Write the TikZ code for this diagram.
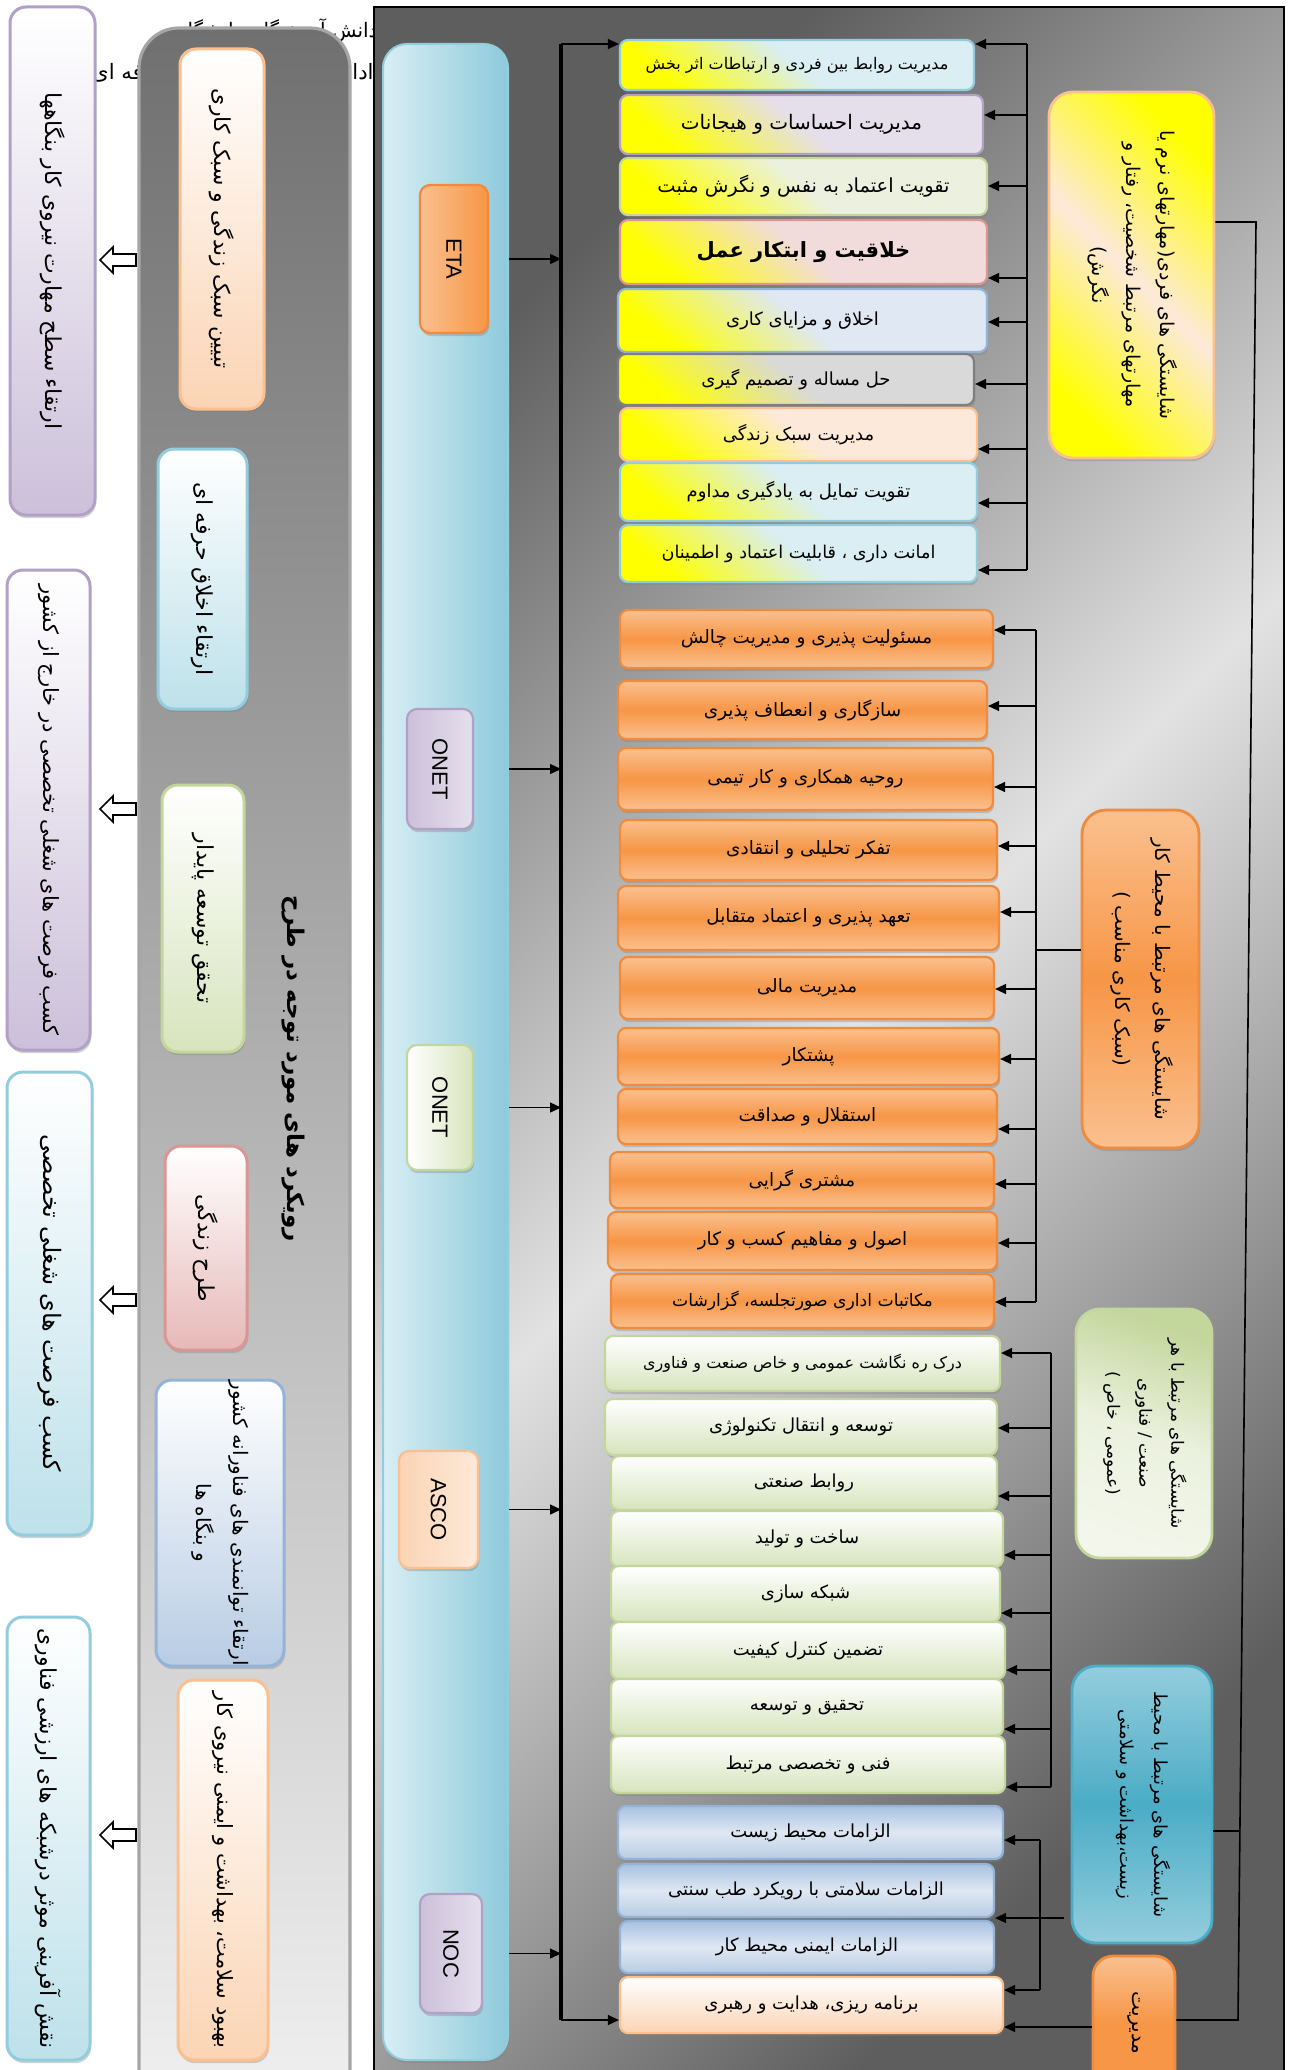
\documentclass[tikz,border=0pt]{standalone}
\usepackage{fontspec}
\setmainfont{DejaVu Sans}
\newfontfamily\arabicfont[Script=Arabic]{DejaVu Sans}
\newfontfamily\latinfont{Liberation Sans}
\usepackage{graphicx}
\TeXXeTstate=1
\usetikzlibrary{shadows,shapes.arrows,arrows.meta}
\newcommand\fa[1]{{\arabicfont\beginR #1\endR}}
\newcommand\fsz[2]{\fontsize{#1}{#2}\selectfont}
\newcommand\vt[1]{\rotatebox{-90}{\begin{tabular}{@{}c@{}}#1\end{tabular}}}
\newcommand\bx[7]{\node[#1,minimum width={(#5-#3)*0.5pt},minimum height={(#6-#4)*0.5pt}] (#2) at ({(#3+#5)/2},{(#4+#6)/2}) {#7};}
% colours
\definecolor{CyB}{HTML}{93CDDD}\definecolor{CyL}{HTML}{DAEEF3}
\definecolor{PuB}{HTML}{B2A1C7}\definecolor{PuL}{HTML}{E5DFEC}\definecolor{PuM}{HTML}{CCC0DA}
\definecolor{GrB}{HTML}{C3D69B}\definecolor{GrL}{HTML}{EBF1DE}\definecolor{GrM}{HTML}{D7E4BD}
\definecolor{RdB}{HTML}{D99694}\definecolor{RdL}{HTML}{F2DCDB}\definecolor{RdM}{HTML}{E6B9B8}
\definecolor{BlB}{HTML}{95B3D7}\definecolor{BlL}{HTML}{DFE8F3}\definecolor{BlM}{HTML}{B8CCE4}\definecolor{BlT}{HTML}{A9C1E0}
\definecolor{GyB}{HTML}{7F7F7F}\definecolor{GyL}{HTML}{D9D9D9}
\definecolor{PcB}{HTML}{FAC090}\definecolor{PcL}{HTML}{FDE9D9}\definecolor{PcM}{HTML}{FBD4B4}
\definecolor{Or}{HTML}{F79646}\definecolor{OrL}{HTML}{FAC08F}\definecolor{OrB}{HTML}{F08A3C}
\definecolor{TeM}{HTML}{4BACC6}\definecolor{TeL}{HTML}{93CDDD}
\definecolor{FrD}{HTML}{5E5E5E}\definecolor{FrL}{HTML}{E2E2E2}
\definecolor{GbT}{HTML}{707070}\definecolor{GbB}{HTML}{F0F0F0}\definecolor{GbE}{HTML}{A6A6A6}
\definecolor{PnL}{HTML}{D8EEF4}\definecolor{PnR}{HTML}{8ECADB}
\begin{document}
\begin{tikzpicture}[x=0.5pt,y=-0.5pt,
  boxbase/.style={draw, rounded corners=4pt, line width=1.1pt, inner sep=0pt, align=center,
     drop shadow={shadow xshift=0.6pt, shadow yshift=-1.6pt, opacity=0.35}},
  yit/.style 2 args={boxbase, draw=#1, shading=axis, bottom color=yellow, top color=#2, middle color=#2, shading angle=-40, font=\fsz{9}{11}},
  oit/.style={boxbase, draw=OrB, top color=OrL, bottom color=OrL, middle color=Or, font=\fsz{9.2}{11}},
  git/.style={boxbase, draw=GrB, top color=white, bottom color=GrM, font=\fsz{9}{11}},
  bit/.style={boxbase, draw=BlB, top color=BlT, bottom color=BlM, middle color=BlL, font=\fsz{9}{11}},
  pit/.style={boxbase, draw=PcB, top color=white, bottom color=PcM, font=\fsz{9}{11}},
  lab/.style n args={4}{boxbase, rounded corners=12pt, line width=1.4pt, draw=#1, shading=axis, top color=#2, bottom color=#4, middle color=#3},
  lbox/.style 2 args={boxbase, rounded corners=8pt, line width=1.5pt, draw=#1, top color=white, bottom color=#2, font=\fsz{11}{14}},
  pnode/.style n args={3}{boxbase, rounded corners=5pt, draw=#1, left color=#2, right color=#3, font=\latinfont\fsz{11}{13}},
  harrow/.style={single arrow, draw, fill=white, line width=0.8pt, shape border rotate=180, minimum height=18pt, single arrow head extend=3.5pt, inner sep=2.6pt},
  arr/.style={-{Triangle[length=5.5pt,width=5pt]}, line width=0.7pt},
  ln/.style={line width=0.8pt},
  bus/.style={line width=1.6pt}
]
\path[use as bounding box, fill=white] (0,0) rectangle (1291,2070);
% partly hidden text lines
\node[anchor=east, font=\fsz{10}{12}, inner sep=0pt] (t1) at (378,31) {\fa{دانش آموختگان دانشگاهی}};
\node[anchor=east, font=\fsz{10.6}{12}, inner sep=0pt] (t2) at (374,72) {\fa{ادامه تحصیل و آموزش حرفه ای}};
% left outcome boxes
\bx{lbox={PuB}{PuM}}{P1}{10}{7}{95}{515}{\rotatebox{-90}{\fa{ارتقاء سطح مهارت نیروی کار بنگاهها}}}
\bx{lbox={PuB}{PuM}}{P2}{7}{570}{90}{1050}{\rotatebox{-90}{\fsz{10.5}{13}\fa{کسب فرصت های شغلی تخصصی در خارج از کشور}}}
\bx{lbox={CyB}{CyL!60!CyB}}{P3}{7}{1072}{92}{1535}{\rotatebox{-90}{\fsz{12}{14}\fa{کسب فرصت های شغلی تخصصی}}}
\bx{lbox={CyB}{CyL!60!CyB}}{P4}{7}{1617}{90}{2060}{\rotatebox{-90}{\fa{نقش آفرینی موثر درشبکه های ارزشی فناوری}}}
\node[harrow] (ha1) at (121,260) {};
\node[harrow] (ha2) at (121,809) {};
\node[harrow] (ha3) at (121,1300) {};
\node[harrow] (ha4) at (121,1835) {};
% grey approach box
\bx{draw=GbE, line width=1.6pt, rounded corners=20pt, top color=GbT, bottom color=GbB, inner sep=0pt}{gbox}{139}{28}{350}{2110}{}
\bx{lbox={PcB}{PcM}}{G1}{180}{49}{264}{409}{\rotatebox{-90}{\fa{تبیین سبک زندگی و سبک کاری}}}
\bx{lbox={CyB}{CyL!60!CyB}}{G2}{158}{449}{247}{709}{\rotatebox{-90}{\fa{ارتقاء اخلاق حرفه ای}}}
\bx{lbox={GrB}{GrM}}{G3}{162}{785}{244}{1052}{\rotatebox{-90}{\fa{تحقق توسعه پایدار}}}
\node[font=\fsz{11.5}{14}\bfseries] (title) at (293,1069) {\rotatebox{-90}{\fa{رویکرد های مورد توجه در طرح}}};
\bx{lbox={RdB}{RdM}}{G4}{165}{1146}{247}{1350}{\rotatebox{-90}{\fa{طرح زندگی}}}
\bx{lbox={BlB}{BlM}}{G5}{156}{1380}{284}{1666}{\fsz{10}{12}\vt{\fa{ارتقاء توانمندی های فناورانه کشور}\\[6pt] \fa{و بنگاه ها}}}
\bx{lbox={PcB}{PcM}}{G6}{178}{1680}{268}{2060}{\rotatebox{-90}{\fsz{10.5}{12}\fa{بهبود سلامت، بهداشت و ایمنی نیروی کار}}}
% main frame
\bx{draw=black, line width=1.2pt, shading=axis, top color=FrD, bottom color=FrD, middle color=FrL, shading angle=45, inner sep=0pt}{frame}{374}{7}{1284}{2090}{}
% standards panel
\bx{boxbase, rounded corners=12pt, line width=1pt, draw=CyB, left color=PnL, right color=PnR}{panel}{383}{44}{508}{2060}{}
\bx{pnode={OrB}{OrL}{Or}}{eta}{420}{185}{488}{333}{\rotatebox{-90}{ETA}}
\bx{pnode={PuB}{PuM}{PuL}}{onA}{407}{709}{473}{829}{\rotatebox{-90}{ONET}}
\bx{pnode={GrB}{white}{GrM}}{onB}{407}{1045}{473}{1170}{\rotatebox{-90}{ONET}}
\bx{pnode={PcB}{PcM}{PcL}}{asco}{399}{1451}{478}{1568}{\rotatebox{-90}{ASCO}}
\bx{pnode={PuB}{PuM}{PuL}}{noc}{420}{1894}{482}{2013}{\rotatebox{-90}{NOC}}
% personal competencies (yellow)
\bx{yit={CyB}{CyL}}{y1}{620}{40}{974}{90}{\fsz{8}{10}\fa{مدیریت روابط بین فردی و ارتباطات اثر بخش}}
\bx{yit={PuB}{PuL}}{y2}{620}{95}{983}{154}{\fsz{10}{12}\fa{مدیریت احساسات و هیجانات}}
\bx{yit={GrB}{GrL}}{y3}{620}{158}{987}{215}{\fsz{9.7}{12}\fa{تقویت اعتماد به نفس و نگرش مثبت}}
\bx{yit={RdB}{RdL}}{y4}{620}{220}{987}{284}{\fsz{10.5}{13}\bfseries\fa{خلاقیت و ابتکار عمل}}
\bx{yit={BlB}{BlL}}{y5}{618}{289}{987}{352}{\fa{اخلاق و مزایای کاری}}
\bx{yit={GyB}{GyL}}{y6}{618}{354}{974}{405}{\fa{حل مساله و تصمیم گیری}}
\bx{yit={PcB}{PcL}}{y7}{620}{408}{977}{461}{\fa{مدیریت سبک زندگی}}
\bx{yit={CyB}{CyL}}{y8}{620}{463}{977}{521}{\fa{تقویت تمایل به یادگیری مداوم}}
\bx{yit={CyB}{CyL}}{y9}{620}{525}{977}{582}{\fsz{8.8}{11}\fa{امانت داری ، قابلیت اعتماد و اطمینان}}
% work environment (orange)
\bx{oit}{o1}{620}{610}{993}{668}{\fa{مسئولیت پذیری و مدیریت چالش}}
\bx{oit}{o2}{618}{681}{987}{739}{\fa{سازگاری و انعطاف پذیری}}
\bx{oit}{o3}{618}{748}{993}{810}{\fa{روحیه همکاری و کار تیمی}}
\bx{oit}{o4}{620}{820}{997}{880}{\fa{تفکر تحلیلی و انتقادی}}
\bx{oit}{o5}{618}{886}{999}{950}{\fa{تعهد پذیری و اعتماد متقابل}}
\bx{oit}{o6}{620}{957}{994}{1019}{\fa{مدیریت مالی}}
\bx{oit}{o7}{618}{1028}{999}{1085}{\fa{پشتکار}}
\bx{oit}{o8}{618}{1089}{997}{1144}{\fa{استقلال و صداقت}}
\bx{oit}{o9}{610}{1152}{994}{1208}{\fa{مشتری گرایی}}
\bx{oit}{o10}{608}{1212}{997}{1270}{\fa{اصول و مفاهیم کسب و کار}}
\bx{oit}{o11}{611}{1274}{994}{1328}{\fsz{8.6}{11}\fa{مکاتبات اداری صورتجلسه، گزارشات}}
% industry (green)
\bx{git}{g1}{605}{1336}{1000}{1391}{\fsz{8}{10}\fa{درک ره نگاشت عمومی و خاص صنعت و فناوری}}
\bx{git}{g2}{605}{1399}{997}{1455}{\fa{توسعه و انتقال تکنولوژی}}
\bx{git}{g3}{611}{1456}{997}{1510}{\fa{روابط صنعتی}}
\bx{git}{g4}{611}{1511}{1003}{1567}{\fa{ساخت و تولید}}
\bx{git}{g5}{611}{1566}{1000}{1622}{\fa{شبکه سازی}}
\bx{git}{g6}{611}{1622}{1005}{1679}{\fa{تضمین کنترل کیفیت}}
\bx{git}{g7}{611}{1679}{1003}{1736}{\fa{تحقیق و توسعه}}
\bx{git}{g8}{611}{1736}{1005}{1793}{\fa{فنی و تخصصی مرتبط}}
% environment / health (blue)
\bx{bit}{b1}{618}{1806}{1003}{1859}{\fa{الزامات محیط زیست}}
\bx{bit}{b2}{618}{1864}{994}{1917}{\fa{الزامات سلامتی با رویکرد طب سنتی}}
\bx{bit}{b3}{620}{1921}{994}{1973}{\fa{الزامات ایمنی محیط کار}}
\bx{pit}{p4}{620}{1977}{1003}{2033}{\fa{برنامه ریزی، هدایت و رهبری}}
% category labels
\bx{lab={PcB}{yellow}{PcL}{yellow}, shading angle=-45}{L1}{1049}{92}{1214}{458}{\fsz{9.5}{12}\vt{\fa{شایستگی های فردی(مهارتهای نرم یا}\\[5pt] \fa{مهارتهای مرتبط شخصیت، رفتار و}\\[5pt] \fa{نگرش)}}}
\bx{lab={OrB}{OrL}{Or}{OrL}}{L2}{1082}{810}{1199}{1148}{\fsz{10}{12}\vt{\fa{شایستگی های مرتبط با محیط کار}\\[8pt] \fa{(سبک کاری مناسب )}}}
\bx{lab={GrB}{GrB}{GrL}{GrL!60!white}, shading angle=-20}{L3}{1076}{1309}{1212}{1558}{\fsz{8.5}{10}\vt{\fa{شایستگی های مرتبط با هر}\\[6pt] \fa{صنعت / فناوری}\\[6pt] \fa{(عمومی ، خاص )}}}
\bx{lab={TeM}{TeL}{TeM}{TeL}}{L4}{1072}{1666}{1212}{1943}{\fsz{9}{11}\vt{\fa{شایستگی های مرتبط با محیط}\\[6pt] \fa{زیست،بهداشت و سلامتی}}}
\bx{lab={OrB}{OrL}{Or}{Or}, rounded corners=10pt}{mg}{1093}{1956}{1175}{2090}{\fsz{10}{12}\rotatebox{-90}{\fa{مدیریت}}}
% main bus
\coordinate (bust) at (561,44);
\coordinate (busb) at (561,2020);
\draw[bus] (bust) -- (busb);
\draw[arr] (bust) -- (y1.west |- bust);
\draw[arr] (busb) -- (p4.west |- busb);
\foreach \n in {eta,onA,onB,asco,noc} \draw[arr] (panel.east |- \n) -- (bust |- \n);
% bracket 1
\coordinate (r1a) at (1027,44);
\coordinate (r1b) at (1027,570);
\draw[ln] (r1a) -- (r1b);
\foreach \n/\yy in {y1/44,y2/115,y3/186,y4/278,y5/322,y6/384,y7/449,y8/503,y9/570}
  \draw[arr] (r1a |- 0,\yy) -- (\n.east |- 0,\yy);
% bracket 2
\coordinate (r2a) at (1036,630);
\coordinate (r2b) at (1036,1302);
\draw[ln] (r2a) -- (r2b);
\foreach \n/\yy in {o1/630,o2/706,o3/787,o4/846,o5/912,o6/989,o7/1059,o8/1129,o9/1184,o10/1243,o11/1302}
  \draw[arr] (r2a |- 0,\yy) -- (\n.east |- 0,\yy);
\draw[ln] (r2a |- 0,950) -- (L2.west |- 0,950);
% bracket 3
\coordinate (r3a) at (1051,1353);
\coordinate (r3b) at (1051,1787);
\draw[ln] (r3a) -- (r3b);
\foreach \n/\yy in {g1/1353,g2/1428,g3/1496,g4/1555,g5/1613,g6/1670,g7/1729,g8/1787}
  \draw[arr] (r3a |- 0,\yy) -- (\n.east |- 0,\yy);
% bracket 4
\coordinate (r4a) at (1040,1840);
\coordinate (r4b) at (1040,1990);
\coordinate (r4s) at (1064,1918);
\draw[ln] (r4a) -- (r4b);
\draw[ln] (r4a |- r4s) -- (r4s);
\foreach \n/\yy in {b1/1840,b2/1918,p4/1990}
  \draw[arr] (r4a |- 0,\yy) -- (\n.east |- 0,\yy);
\draw[arr] (mg.west |- 0,2027) -- (p4.east |- 0,2027);
% right-hand bus
\coordinate (rb1) at (1256,222);
\coordinate (rb2) at (1238,2020);
\coordinate (rb3) at (1240,1831);
\draw[ln] (L1.east |- rb1) -- (rb1) -- (rb2) -- (mg.east |- rb2);
\draw[ln] (L4.east |- rb3) -- (rb3);
\end{tikzpicture}
\end{document}
